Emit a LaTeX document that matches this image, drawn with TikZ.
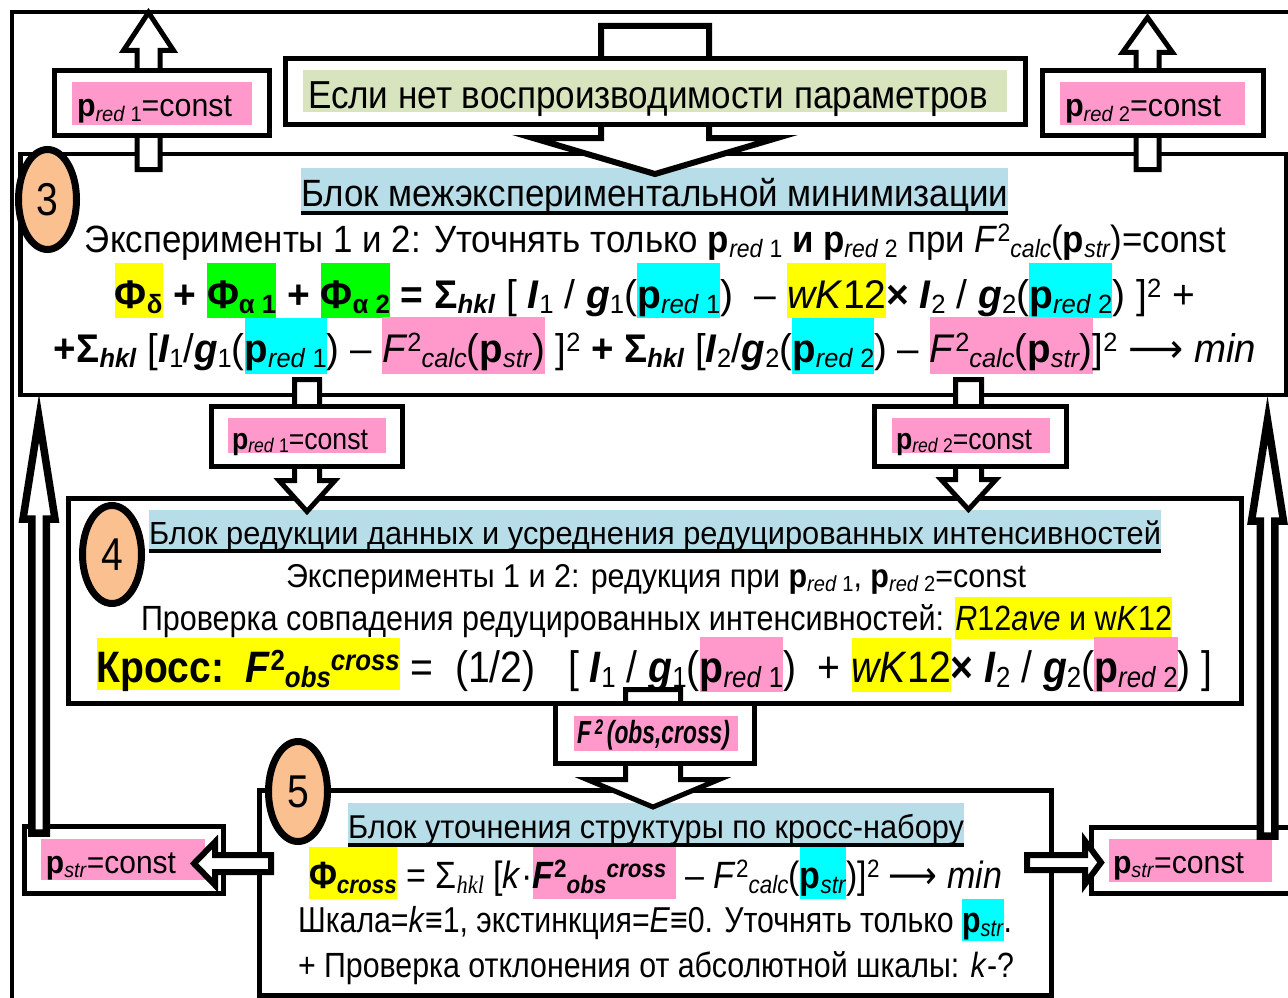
\documentclass[tikz,border=0pt]{standalone}
\usepackage{fontspec}
\setmainfont{Liberation Sans}
\newfontfamily\serif{Liberation Serif}
\newfontfamily\dejavu{DejaVu Sans}
\usepackage{graphicx}
\usetikzlibrary{shapes.geometric}
\definecolor{hlyellow}{HTML}{FFFF00}
\definecolor{hlgreen}{HTML}{00FF00}
\definecolor{hlcyan}{HTML}{00FFFF}
\definecolor{hlpink}{HTML}{FF99CC}
\definecolor{hlblue}{HTML}{B7DEE8}
\definecolor{hlolive}{HTML}{D7E4BD}
\definecolor{peach}{HTML}{FAC090}
\newsavebox\fitbox
\newsavebox\hlbox
\newcommand\fitx[2]{\sbox\fitbox{#2}\pgfmathsetmacro\fxr{#1/\the\wd\fitbox}\scalebox{\fxr}[1]{\usebox\fitbox}}
\newcommand\hl[4]{\sbox\hlbox{#4}\rlap{\textcolor{#1}{\rule[-#3pt]{\wd\hlbox}{\dimexpr#2pt+#3pt\relax}}}\usebox\hlbox}
\newcommand\ttl[2]{\sbox\hlbox{#2}\rlap{\textcolor{hlblue}{\rule[-9pt]{\wd\hlbox}{\dimexpr#1pt+9pt\relax}}}\rlap{\rule[-9pt]{\wd\hlbox}{4pt}}\usebox\hlbox}
\newcommand\dn[1]{\raisebox{-0.25ex}{\scalebox{0.66}{#1}}}
\newcommand\up[1]{\raisebox{0.5ex}{\scalebox{0.66}{#1}}}
\newcommand\pb{\textbf{p}}
\newcommand\rd[1]{\dn{\textit{red} #1}}
\newcommand\fs[1]{\fontsize{#1}{#1}\selectfont}
\newcommand\lto{{\dejavu ⟶}}
\begin{document}
\begin{tikzpicture}[x=1pt,y=-1pt,
  frame/.style={draw=black,fill=white,line width=5pt},
  arr/.style={draw=black,fill=white,line width=5pt,line join=miter},
  tx/.style={anchor=base,inner sep=0pt,outer sep=0pt},
  numel/.style={ellipse,draw=black,fill=peach,line width=7pt,inner sep=0pt,minimum width=59,minimum height=100,font=\fs{46}}]
\useasboundingbox (0,0) rectangle (1288,998);
\fill[white] (0,0) rectangle (1288,998);
% outer frame
\draw[line width=4.5pt] (12,1010) -- (12,12) -- (1300,12);
% ---------- block 3
\draw[frame,line width=4.5pt] (20.5,154) rectangle (1286,395);
\node[tx] (t3) at (654.5,206) {\fs{38}\fitx{707}{\ttl{38}{Блок межэкспериментальной минимизации}}};
\node[tx] (l31) at (655.5,252) {\fs{38}\fitx{1141}{Эксперименты 1 и 2: Уточнять только \pb\rd{1} \textbf{и} \pb\rd{2} при \textit{F}\up{2}\dn{\textit{calc}}(\pb\dn{\textit{str}})=const}};
\node[tx] (l32) at (655,308) {\fs{40}\fitx{1080}{\hl{hlyellow}{45}{10}{\textbf{Φ\dn{δ}}} \textbf{+} \hl{hlgreen}{45}{10}{\textbf{Φ\dn{α 1}}} \textbf{+} \hl{hlgreen}{45}{10}{\textbf{Φ\dn{α 2}}} \textbf{= Σ\dn{\textit{hkl}}} [ \textbf{\textit{I}}\dn{1} / \textbf{\textit{g}}\dn{1}(\hl{hlcyan}{45}{10}{\pb\rd{1}})\ \ – \hl{hlyellow}{45}{10}{\textit{wK}12}\textbf{×} \textbf{\textit{I}}\dn{2} / \textbf{\textit{g}}\dn{2}(\hl{hlcyan}{45}{10}{\pb\rd{2}}) ]\up{2} +}};
\node[tx] (l33) at (655,362) {\fs{40}\fitx{1202}{\textbf{+Σ\dn{\textit{hkl}}} [\textbf{\textit{I}}\dn{1}/\textbf{\textit{g}}\dn{1}(\hl{hlcyan}{44}{12}{\pb\rd{1}}) – \hl{hlpink}{45}{12}{\textit{F}\up{2}\dn{\textit{calc}}(\pb\dn{\textit{str}})} ]\up{2} \textbf{+ Σ\dn{\textit{hkl}}} [\textbf{\textit{I}}\dn{2}/\textbf{\textit{g}}\dn{2}(\hl{hlcyan}{44}{12}{\pb\rd{2}}) – \hl{hlpink}{45}{12}{\textit{F}\up{2}\dn{\textit{calc}}(\pb\dn{\textit{str}})}]\up{2} \lto{} \textit{min}}};
% big arrow from the top box
\draw[arr,line width=6pt] (601,26) -- (709,26) -- (709,138) -- (777,138) -- (655,174) -- (533,138) -- (601,138) -- cycle;
\draw[frame] (285,58.5) rectangle (1025,124.5);
\fill[hlolive] (303,70) rectangle (1007,112);
\node[tx] (esli) at (648,108) {\fs{39}\fitx{680}{Если нет воспроизводимости параметров}};
% top up arrows
\draw[arr] (137,169.5) -- (137,50.5) -- (123.5,50.5) -- (148.5,12.5) -- (173.5,50.5) -- (160,50.5) -- (160,169.5) -- cycle;
\draw[arr] (1136,169.5) -- (1136,52.5) -- (1122.5,52.5) -- (1147.5,17.5) -- (1172.5,52.5) -- (1159,52.5) -- (1159,169.5) -- cycle;
\draw[frame] (54,70.5) rectangle (269.5,135.5);
\fill[hlpink] (72,82) rectangle (252,125);
\node[tx] (pr1a) at (154.5,117) {\fs{32}\fitx{155}{\pb\rd{1}=const}};
\draw[frame] (1042,70.5) rectangle (1263,135.5);
\fill[hlpink] (1060,82) rectangle (1245,125);
\node[tx] (pr2a) at (1143,117) {\fs{32}\fitx{156}{\pb\rd{2}=const}};
% ---------- block 4
\draw[frame] (68.5,498) rectangle (1241,703);
\node[tx] (t4) at (655,544) {\fs{32}\fitx{1012}{\ttl{34}{Блок редукции данных и усреднения редуцированных интенсивностей}}};
\node[tx] (l41) at (656,587) {\fs{33}\fitx{740}{Эксперименты 1 и 2: редукция при \pb\rd{1}, \pb\rd{2}=const}};
\node[tx] (l42) at (656.5,630) {\fs{35}\fitx{1031}{Проверка совпадения редуцированных интенсивностей: \hl{hlyellow}{33}{9}{\textit{R}12\textit{ave} и w\textit{K}12}}};
\node[tx] (l43) at (654.5,682) {\fs{44}\fitx{1116}{\hl{hlyellow}{44}{8}{\textbf{Кросс:\ \ \textit{F}\up{2}\dn{\textit{obs}}\up{\textit{cross}}}} =\ \ (1/2)\ \ \ [ \textbf{\textit{I}}\dn{1} / \textbf{\textit{g}}\dn{1}(\hl{hlpink}{45}{10}{\pb\rd{1}})\ \ + \hl{hlyellow}{44}{10}{\textit{wK}12}\textbf{×} \textbf{\textit{I}}\dn{2} / \textbf{\textit{g}}\dn{2}(\hl{hlpink}{45}{10}{\pb\rd{2}}) ]}};
% arrows block 3 -> block 4
\draw[arr] (294.5,379.5) -- (319.5,379.5) -- (319.5,480.5) -- (335,480.5) -- (307,511.5) -- (279,480.5) -- (294.5,480.5) -- cycle;
\draw[arr] (955.5,379.5) -- (981.5,379.5) -- (981.5,479.5) -- (996,479.5) -- (968.5,509.5) -- (941,479.5) -- (955.5,479.5) -- cycle;
\draw[frame] (211,406) rectangle (402,466);
\fill[hlpink] (228,418) rectangle (386,453);
\node[tx] (pr1b) at (300,449) {\fs{30}\fitx{136}{\pb\rd{1}=const}};
\draw[frame] (874,406) rectangle (1066.5,466);
\fill[hlpink] (892,418) rectangle (1050,453);
\node[tx] (pr2b) at (964,449) {\fs{30}\fitx{136}{\pb\rd{2}=const}};
% ---------- block 5
\draw[frame] (259,790.5) rectangle (1051.5,995);
\node[tx] (t5) at (656,838) {\fs{33}\fitx{616}{\ttl{35}{Блок уточнения структуры по кросс-набору}}};
\node[tx] (l51) at (655.5,888) {\fs{38}\fitx{693}{\hl{hlyellow}{41}{11}{\textbf{Φ\dn{\textit{cross}}}} = Σ\dn{{\serif\itshape hkl}} [\textit{k}·\hl{hlpink}{41}{11}{\textbf{\textit{F}\up{2}\dn{\textit{obs}}\up{\textit{cross}}}\ } – \textit{F}\up{2}\dn{\textit{calc}}(\hl{hlcyan}{41}{11}{\pb\dn{\textit{str}}})]\up{2} \lto{} \textit{min}}};
\node[tx] (l52) at (655,932) {\fs{36}\fitx{714}{Шкала=\textit{k}≡1, экстинкция=\textit{E}≡0. Уточнять только \hl{hlcyan}{33}{9}{\pb\dn{\textit{str}}}.}};
\node[tx] (l53) at (656,977) {\fs{35}\fitx{716}{+ Проверка отклонения от абсолютной шкалы: \textit{k}-?}};
% F2 arrow block 4 -> block 5
\draw[arr] (625.5,689.5) -- (680.5,689.5) -- (680.5,779.5) -- (719,779.5) -- (653,807) -- (587,779.5) -- (625.5,779.5) -- cycle;
\draw[frame] (555.5,703) rectangle (754.5,763.5);
\fill[hlpink] (574,716) rectangle (738,751);
\node[tx] (f2) at (653.5,743) {\fs{32}\fitx{153}{\textbf{\textit{F\,\up{2}\,(obs,cross)}}}};
% p_str boxes
\draw[frame] (24,826.5) rectangle (223.5,893);
\fill[hlpink] (41,839) rectangle (205,880);
\node[tx] (psl) at (111,873) {\fs{32}\fitx{130}{\pb\dn{\textit{str}}=const}};
\draw[frame] (1091,827.5) rectangle (1300,893.5);
\fill[hlpink] (1109,839) rectangle (1272,882);
\node[tx] (psr) at (1178.5,873) {\fs{32}\fitx{131}{\pb\dn{\textit{str}}=const}};
% side arrows from block 5
\draw[arr,line width=6pt] (271,855) -- (271,872) -- (215,872) -- (215,885) -- (194,863.5) -- (215,842) -- (215,855) -- cycle;
\draw[arr,line width=6pt] (1027,855) -- (1085,855) -- (1085,841) -- (1101,862.5) -- (1085,884) -- (1085,870) -- (1027,870) -- cycle;
% long up arrows
\draw[arr,line width=7.5pt] (31.75,833) -- (31.75,519) -- (23,519) -- (39,418) -- (55,519) -- (46.25,519) -- (46.25,833) -- cycle;
\draw[arr,line width=7.5pt] (1260.25,836) -- (1260.25,521) -- (1251.5,521) -- (1267.5,420) -- (1283.5,521) -- (1274.75,521) -- (1274.75,836) -- cycle;
% numbered ellipses
\node[numel,minimum width=58] (n3) at (47.5,199.5) {\scalebox{0.85}[1]{3}};
\node[numel,minimum height=98] (n4) at (112,554.5) {\scalebox{0.85}[1]{4}};
\node[numel] (n5) at (298,791.5) {\scalebox{0.85}[1]{5}};
\end{tikzpicture}
\end{document}
